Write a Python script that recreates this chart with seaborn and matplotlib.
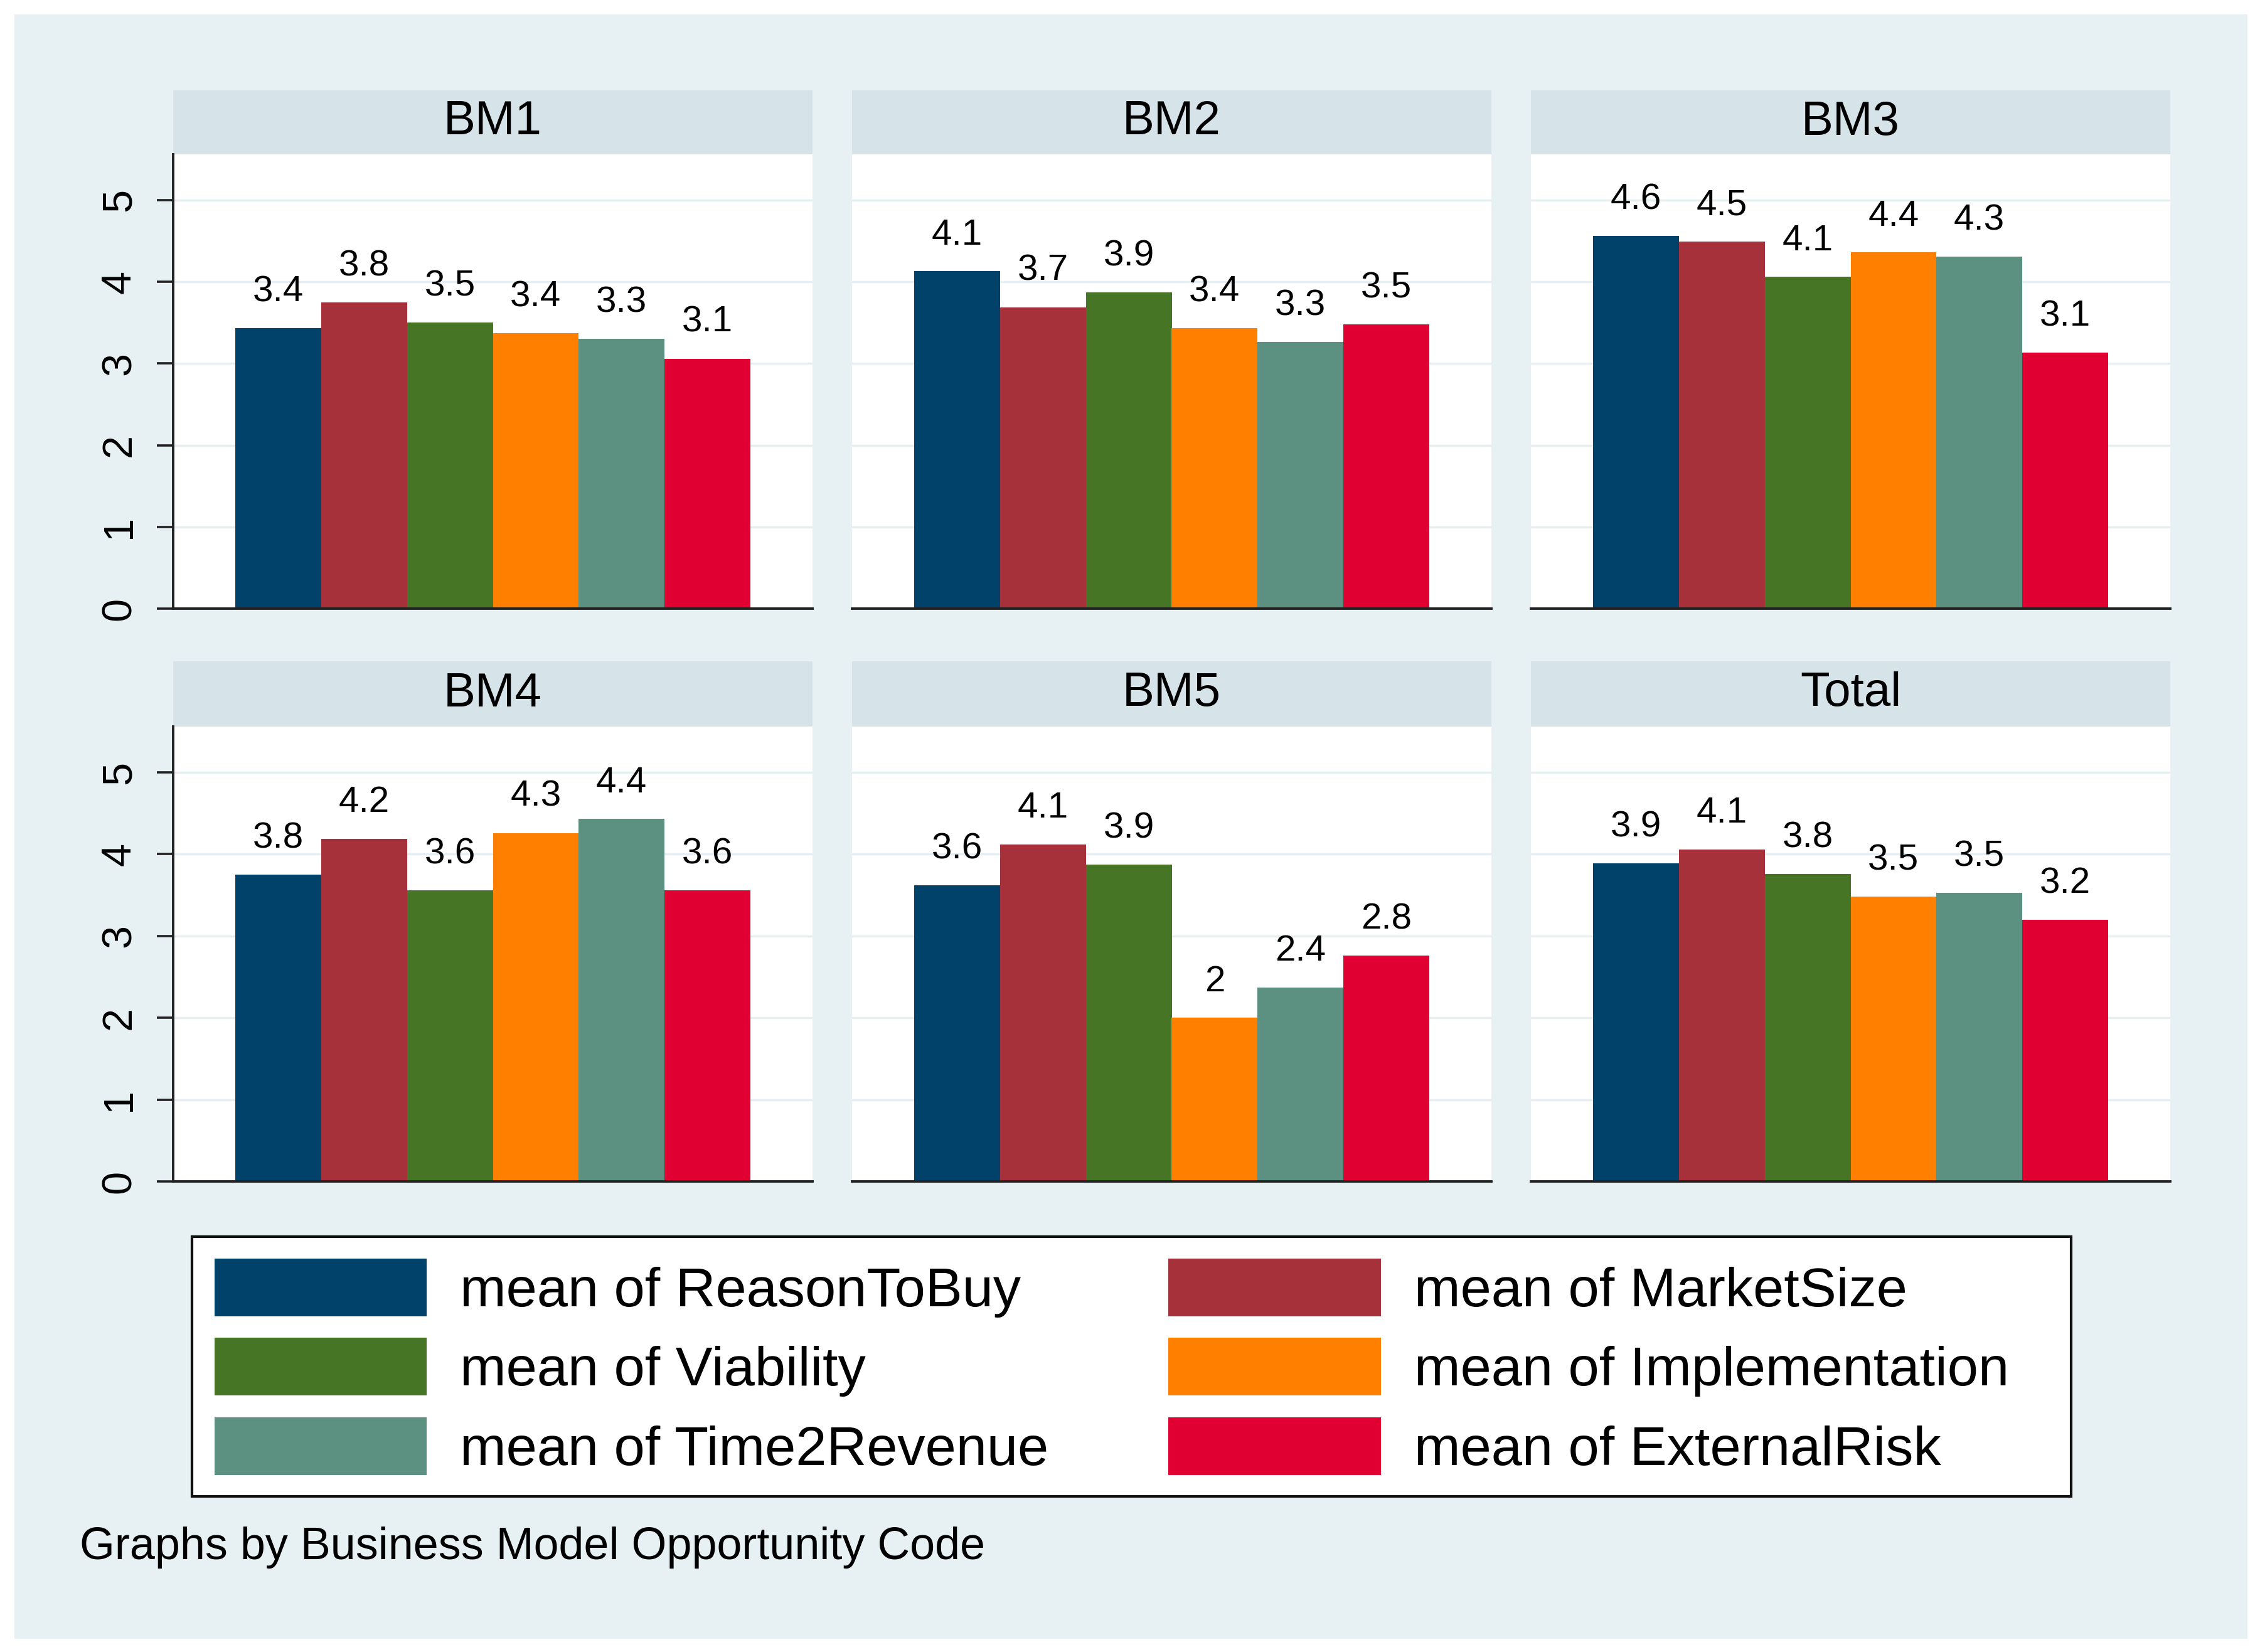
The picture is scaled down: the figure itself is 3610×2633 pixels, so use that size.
import pandas as pd
import seaborn as sns
import matplotlib.pyplot as plt
from matplotlib.patches import Rectangle, Patch

groups = ['BM1', 'BM2', 'BM3', 'BM4', 'BM5', 'Total']
measures = ['ReasonToBuy', 'MarketSize', 'Viability', 'Implementation',
            'Time2Revenue', 'ExternalRisk']

reason_to_buy  = [3.43, 4.13, 4.56, 3.75, 3.62, 3.89]
market_size    = [3.75, 3.69, 4.49, 4.19, 4.12, 4.06]
viability      = [3.50, 3.87, 4.06, 3.56, 3.87, 3.76]
implementation = [3.37, 3.43, 4.36, 4.26, 2.00, 3.48]
time2revenue   = [3.30, 3.26, 4.31, 4.43, 2.37, 3.53]
external_risk  = [3.06, 3.48, 3.13, 3.56, 2.76, 3.20]

colors = ['#01426a', '#a6313a', '#467526', '#ff8000', '#5c9182', '#e10032']

caption = 'Graphs by Business Model Opportunity Code'

series = [reason_to_buy, market_size, viability, implementation,
          time2revenue, external_risk]
rows = []
for m, vals in zip(measures, series):
    for g, v in zip(groups, vals):
        rows.append({'group': g, 'measure': m, 'value': v})
df = pd.DataFrame(rows)

sns.set_style('white')
plt.rcParams['font.family'] = ['Liberation Sans', 'DejaVu Sans']
plt.rcParams['text.color'] = 'black'
plt.rcParams['ytick.color'] = 'black'

W, H = 3610, 2633
BG = '#e7f0f2'
STRIP = '#d6e4ea'
GRID = '#e6eef1'

fig = plt.figure(figsize=(W / 200, H / 200), dpi=200, facecolor='white')

# light outer region
fig.patches.append(Rectangle((23 / W, 1 - 2612 / H), (3582 - 23) / W,
                             (2612 - 23) / H, transform=fig.transFigure,
                             facecolor=BG, edgecolor='none', zorder=-5))

col_x = [276, 1358, 2440]
panel_w = 1019
row_y = [(144, 246, 970), (1054, 1158, 1883)]  # strip top, plot top, plot bottom

def fx(px):
    return px / W

def fy(py):
    return 1 - py / H

for i, g in enumerate(groups):
    r, c = divmod(i, 3)
    st, pt, pb = row_y[r]
    x0 = col_x[c]

    sax = fig.add_axes([fx(x0), fy(pt), panel_w / W, (pt - st) / H])
    sax.set_facecolor(STRIP)
    sax.set_xticks([])
    sax.set_yticks([])
    for s in sax.spines.values():
        s.set_visible(False)
    sax.text(0.5, 0.5, g, ha='center', va='center', fontsize=27.5,
             transform=sax.transAxes)

    ax = fig.add_axes([fx(x0), fy(pb), panel_w / W, (pb - pt) / H])
    ax.set_facecolor('white')
    sub = df[df['group'] == g]
    sns.barplot(data=sub, x='measure', y='value', hue='measure',
                order=measures, hue_order=measures, palette=colors,
                width=1.0, errorbar=None, saturation=1, linewidth=0,
                legend=False, ax=ax)
    for cont in ax.containers:
        labs = [f'{round(b.get_height(), 1):g}' for b in cont]
        ax.bar_label(cont, labels=labs, padding=11, fontsize=21)

    ax.set_xlim(-1.225, 6.225)
    ax.set_ylim(0, 5.56)
    ax.set_yticks([0, 1, 2, 3, 4, 5])
    ax.set_xticks([])
    ax.set_xlabel('')
    ax.set_ylabel('')
    ax.yaxis.grid(True, color=GRID, linewidth=1.2)
    ax.set_axisbelow(True)
    for s in ['top', 'right']:
        ax.spines[s].set_visible(False)
    ax.spines['bottom'].set_color('#222222')
    ax.spines['bottom'].set_linewidth(1.4)
    if c == 0:
        ax.spines['left'].set_color('#222222')
        ax.spines['left'].set_linewidth(1.4)
        ax.tick_params(axis='y', length=9.5, width=1.3, color='#222222',
                       labelsize=24, pad=10, labelrotation=90, left=True)
        for t in ax.get_yticklabels():
            t.set_va('center')
    else:
        ax.spines['left'].set_visible(False)
        ax.tick_params(axis='y', left=False, labelleft=False)

# legend box
fig.patches.append(Rectangle((fx(306), fy(2385)), (3301 - 306) / W,
                             (2385 - 1971) / H, transform=fig.transFigure,
                             facecolor='white', edgecolor='#111111',
                             linewidth=1.5, zorder=1))

order = [0, 2, 4, 1, 3, 5]
handles = [Patch(facecolor=colors[k], edgecolor='none') for k in order]
labels = ['mean of ' + measures[k] for k in order]
leg = fig.legend(handles, labels, ncol=2, frameon=False, loc='upper left',
                 bbox_to_anchor=(fx(342), fy(2006)), fontsize=31.8,
                 handlelength=3.83, handleheight=1.225, labelspacing=0.37,
                 handletextpad=0.6, columnspacing=2.16, borderpad=0,
                 borderaxespad=0)
leg.set_zorder(2)

fig.text(fx(127), fy(2466), caption, ha='left', va='center', fontsize=25.9)

fig.savefig('out.png', dpi=200, facecolor='white')
